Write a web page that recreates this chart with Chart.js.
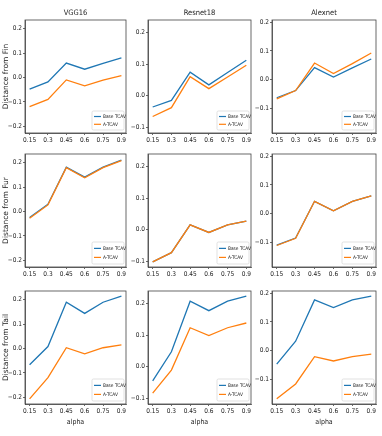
<!DOCTYPE html>
<html>
<head>
<meta charset="utf-8">
<script src="https://cdn.jsdelivr.net/npm/chart.js@4"></script>
<style>
  body { margin: 0; background: #fff; }
  #fig { position: relative; width: 382px; height: 436px; overflow: hidden; }
  #fig canvas { position: absolute; }
</style>
</head>
<body>
<div id="fig"></div>
<script>
const alphas = [0.15, 0.3, 0.45, 0.6, 0.75, 0.9];
const models = ['VGG16', 'Resnet18', 'Alexnet'];
const concepts = ['Fin', 'Fur', 'Tail'];
const seriesNames = ['Base TCAV', 'A-TCAV'];

// values
const vggFinBase = [-0.048, -0.018, 0.059, 0.034, 0.058, 0.081];
const vggFinA = [-0.120, -0.090, -0.010, -0.034, -0.011, 0.008];
const vggFurBase = [-0.025, 0.030, 0.182, 0.141, 0.182, 0.211];
const vggFurA = [-0.028, 0.027, 0.180, 0.138, 0.180, 0.209];
const vggTailBase = [-0.067, 0.008, 0.190, 0.144, 0.190, 0.215];
const vggTailA = [-0.207, -0.120, 0.003, -0.022, 0.003, 0.015];

const resFinBase = [-0.036, -0.015, 0.074, 0.034, 0.073, 0.112];
const resFinA = [-0.066, -0.038, 0.060, 0.022, 0.059, 0.096];
const resFurBase = [-0.102, -0.073, 0.015, -0.009, 0.015, 0.027];
const resFurA = [-0.102, -0.073, 0.015, -0.009, 0.015, 0.027];
const resTailBase = [-0.045, 0.047, 0.207, 0.177, 0.207, 0.223];
const resTailA = [-0.084, -0.011, 0.123, 0.098, 0.123, 0.138];

const alexFinBase = [-0.063, -0.038, 0.042, 0.009, 0.041, 0.072];
const alexFinA = [-0.067, -0.038, 0.058, 0.021, 0.056, 0.093];
const alexFurBase = [-0.110, -0.085, 0.043, 0.010, 0.043, 0.062];
const alexFurA = [-0.111, -0.086, 0.043, 0.010, 0.043, 0.062];
const alexTailBase = [-0.047, 0.033, 0.177, 0.150, 0.177, 0.190];
const alexTailA = [-0.168, -0.116, -0.021, -0.036, -0.021, -0.012];

const yTicks = [
  [-0.2, -0.1, 0.0, 0.1, 0.2],
  [-0.1, 0.0, 0.1, 0.2],
  [-0.1, 0.0, 0.1, 0.2]
];

// grid[row][col] = [base, a]
const grid = [
  [[vggFinBase, vggFinA], [resFinBase, resFinA], [alexFinBase, alexFinA]],
  [[vggFurBase, vggFurA], [resFurBase, resFurA], [alexFurBase, alexFurA]],
  [[vggTailBase, vggTailA], [resTailBase, resTailA], [alexTailBase, alexTailA]]
];

const colors = ['#1f77b4', '#ff7f0e'];
const narrow = "'Liberation Sans Narrow', 'DejaVu Sans Condensed', 'Liberation Sans', sans-serif";

// plot area placement in the figure
const colLeft = [25, 148, 272];
const colRight = [126, 251, 376];
const rowTop = [20, 154, 291];
const rowBottom = [133, 267, 404];

// each column shares its y range (data range + 5% margin)
function columnRange(col) {
  let lo = Infinity, hi = -Infinity;
  grid.forEach(row => row[col].forEach(s => s.forEach(v => {
    lo = Math.min(lo, v);
    hi = Math.max(hi, v);
  })));
  const m = (hi - lo) * 0.05;
  return [lo - m, hi + m];
}

const boxPlugin = {
  id: 'box',
  afterDatasetsDraw(chart, args, opts) {
    const { ctx, chartArea: a } = chart;
    ctx.save();
    ctx.strokeStyle = '#444';
    ctx.lineWidth = 0.8;
    ctx.strokeRect(a.left, a.top, a.right - a.left, a.bottom - a.top);

    // legend, lower right inside the axes
    const lw = 32, lh = opts.h;
    const x0 = a.right - 2 - lw, y0 = a.bottom - 3 - lh;
    ctx.beginPath();
    ctx.roundRect(x0, y0, lw, lh, 1.5);
    ctx.fillStyle = 'rgba(255,255,255,0.85)';
    ctx.fill();
    ctx.strokeStyle = '#cfcfcf';
    ctx.lineWidth = 0.6;
    ctx.stroke();

    ctx.font = '4.8px ' + narrow;
    ctx.textBaseline = 'middle';
    const rowsY = [y0 + lh * 0.29, y0 + lh * 0.7];
    chart.data.datasets.forEach((ds, i) => {
      ctx.strokeStyle = ds.borderColor;
      ctx.lineWidth = 1.2;
      ctx.beginPath();
      ctx.moveTo(x0 + 2, rowsY[i]);
      ctx.lineTo(x0 + 9, rowsY[i]);
      ctx.stroke();
      ctx.fillStyle = '#222';
      ctx.fillText(ds.label, x0 + 11, rowsY[i]);
    });
    ctx.restore();
  }
};

function drawPanel(row, col) {
  const L = colLeft[col], R = colRight[col], T = rowTop[row], B = rowBottom[row];
  const yw = 24, padR = 6, padT = 6;
  const titleH = row === 0 ? 11 : 0;
  const xh = row === 2 ? 22 : 13;
  const w = (R - L) + yw + padR;
  const h = (B - T) + padT + titleH + xh;

  const canvas = document.createElement('canvas');
  canvas.width = w;
  canvas.height = h;
  canvas.style.left = (L - yw) + 'px';
  canvas.style.top = (T - padT - titleH) + 'px';
  canvas.style.width = w + 'px';
  canvas.style.height = h + 'px';
  document.getElementById('fig').appendChild(canvas);

  const [ymin, ymax] = columnRange(col);
  const series = grid[row][col];

  new Chart(canvas, {
    type: 'line',
    data: {
      datasets: series.map((vals, i) => ({
        label: seriesNames[i],
        data: alphas.map((a, k) => ({ x: a, y: vals[k] })),
        borderColor: colors[i],
        borderWidth: 1.3,
        pointRadius: 0,
        tension: 0,
        fill: false,
        order: i === 0 ? 1 : 0
      }))
    },
    options: {
      responsive: false,
      animation: false,
      devicePixelRatio: 1,
      layout: { padding: { left: 0, right: padR, top: padT, bottom: 0 } },
      plugins: {
        legend: { display: false },
        tooltip: { enabled: false },
        title: {
          display: row === 0,
          text: models[col],
          fullSize: false,
          color: '#222',
          font: { family: narrow, size: 7.5, weight: 'normal' },
          padding: { top: 0, bottom: 2 }
        },
        box: { h: row === 0 ? 19 : 22 }
      },
      scales: {
        x: {
          type: 'linear',
          min: 0.1125,
          max: 0.9375,
          afterBuildTicks: s => { s.ticks = alphas.map(v => ({ value: v })); },
          afterFit: s => { s.height = xh; },
          ticks: {
            autoSkip: false,
            maxRotation: 0,
            padding: 1,
            color: '#222',
            font: { family: narrow, size: 6.5 },
            callback: v => String(v)
          },
          grid: { drawOnChartArea: false, drawTicks: true, tickLength: 2, color: '#444', lineWidth: 0.8 },
          border: { display: true, color: '#444', width: 0.8 },
          title: {
            display: row === 2,
            text: 'alpha',
            color: '#222',
            font: { family: narrow, size: 7 },
            padding: { top: 0, bottom: 0 }
          }
        },
        y: {
          type: 'linear',
          min: ymin,
          max: ymax,
          afterBuildTicks: s => { s.ticks = yTicks[col].map(v => ({ value: v })); },
          afterFit: s => { s.width = yw; },
          ticks: {
            padding: 1,
            color: '#222',
            font: { family: narrow, size: 6.5 },
            callback: v => (v < 0 ? '\u2212' : '') + Math.abs(v).toFixed(1)
          },
          grid: { drawOnChartArea: false, drawTicks: true, tickLength: 2, color: '#444', lineWidth: 0.8 },
          border: { display: true, color: '#444', width: 0.8 },
          title: {
            display: col === 0,
            text: 'Distance from ' + concepts[row],
            color: '#222',
            font: { family: "'DejaVu Sans', sans-serif", size: 7.5 },
            padding: { top: 1, bottom: 0 }
          }
        }
      }
    },
    plugins: [boxPlugin]
  });
}

for (let r = 0; r < 3; r++) {
  for (let c = 0; c < 3; c++) {
    drawPanel(r, c);
  }
}
</script>
</body>
</html>
